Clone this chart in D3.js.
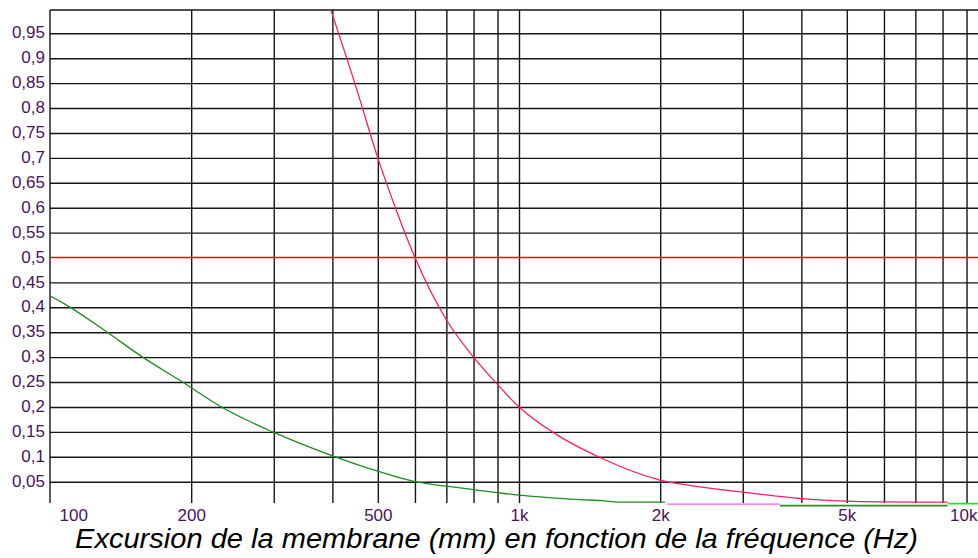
<!DOCTYPE html>
<html>
<head>
<meta charset="utf-8">
<script src="https://cdn.jsdelivr.net/npm/d3@7"></script>
<style>
  html, body { margin: 0; padding: 0; background: #fff; }
  svg { display: block; }
</style>
</head>
<body>
<svg id="chart" width="978" height="558"></svg>
<script>
// ---------- data ----------
const title = "Excursion de la membrane (mm) en fonction de la fréquence (Hz)";

// vertical grid frequencies (Hz)
const xGrid = [200, 300, 400, 500, 600, 700, 800, 900,
               1000, 2000, 3000, 4000, 5000, 6000, 7000, 8000, 9000];
const xTickValues = [100, 200, 500, 1000, 2000, 5000, 10000];
const xTickLabels = ["100", "200", "500", "1k", "2k", "5k", "10k"];

// horizontal grid values (mm)
const yTickValues = [0.05, 0.1, 0.15, 0.2, 0.25, 0.3, 0.35, 0.4, 0.45, 0.5,
                     0.55, 0.6, 0.65, 0.7, 0.75, 0.8, 0.85, 0.9, 0.95];
const yTickLabels = ["0,05", "0,1", "0,15", "0,2", "0,25", "0,3", "0,35", "0,4", "0,45", "0,5",
                     "0,55", "0,6", "0,65", "0,7", "0,75", "0,8", "0,85", "0,9", "0,95"];

// limit line
const limitValue = 0.5;

// pink curve (excursion, high level)
const pinkFreq  = [397, 450, 500, 550, 600, 700, 800, 900, 1000, 1200, 1500, 2000, 2500, 3000, 4000, 5000, 6000, 7000, 8200];
const pinkValue = [0.997, 0.84, 0.70, 0.59, 0.50, 0.375, 0.30, 0.245, 0.20, 0.145, 0.097, 0.053, 0.038, 0.029, 0.016, 0.011, 0.0095, 0.009, 0.009];

// green curve (excursion, low level)
const greenFreq  = [100, 110, 132, 157, 191, 232, 300, 390, 500, 600, 700, 800, 900, 1000, 1090, 1350, 1500, 1630, 2050];
const greenValue = [0.423, 0.401, 0.351, 0.301, 0.251, 0.20, 0.149, 0.106, 0.071, 0.05, 0.041, 0.034, 0.028, 0.023, 0.020, 0.014, 0.012, 0.009, 0.009];

// residual segments along the bottom
const lilacFreq  = [2070, 3600];
const lilacValue = [0.005, 0.005];
const darkGreenFreq  = [3600, 8200];
const darkGreenValue = [0.002, 0.002];
const brightGreenFreq  = [8200, 10000];
const brightGreenValue = [0.006, 0.006];

// ---------- layout ----------
const W = 978, H = 558;
const plotLeft = 50, plotTop = 10, plotBottom = 503, plotRight = 978;

const x = d3.scaleLog().domain([100, 10000]).range([50, 988]);
const y = d3.scaleLinear().domain([0, 1]).range([506.6, 8.4]);

const svg = d3.select("#chart");
const labelColor = "#4a1458";
const gridColor = "#161616";
const font = "'Liberation Sans', Arial, sans-serif";

svg.append("defs").append("clipPath").attr("id", "plotclip")
  .append("rect").attr("x", plotLeft).attr("y", plotTop)
  .attr("width", W - plotLeft).attr("height", H - plotTop);

// vertical grid via axis
const gx = svg.append("g")
  .attr("transform", `translate(0,${plotBottom})`)
  .call(d3.axisBottom(x).tickValues(xGrid).tickSize(-(plotBottom - plotTop)).tickFormat(""));
gx.select(".domain").remove();
gx.selectAll(".tick line").attr("stroke", gridColor).attr("stroke-width", 1.4);

// horizontal grid via axis (the limit line replaces the grid line at its value)
const gy = svg.append("g")
  .attr("transform", `translate(${plotLeft},0)`)
  .call(d3.axisRight(y).tickValues(yTickValues.filter(v => v !== limitValue))
        .tickSize(plotRight - plotLeft).tickFormat(""));
gy.select(".domain").remove();
gy.selectAll(".tick line").attr("stroke", gridColor).attr("stroke-width", 1.4);

// borders (top and left)
svg.append("line").attr("x1", plotLeft).attr("x2", plotRight)
  .attr("y1", plotTop).attr("y2", plotTop)
  .attr("stroke", gridColor).attr("stroke-width", 1.4);
svg.append("line").attr("x1", plotLeft).attr("x2", plotLeft)
  .attr("y1", plotTop).attr("y2", plotBottom)
  .attr("stroke", gridColor).attr("stroke-width", 1.4);

// y labels via axis
const yl = svg.append("g")
  .attr("transform", `translate(45,0)`)
  .call(d3.axisLeft(y).tickValues(yTickValues).tickSize(0).tickPadding(0)
        .tickFormat((d, i) => yTickLabels[i]));
yl.select(".domain").remove();
yl.selectAll("text")
  .attr("fill", labelColor)
  .attr("font-family", font)
  .attr("font-size", 17)
  .attr("dy", "0.27em");

// x labels via axis
const xl = svg.append("g")
  .attr("transform", `translate(0,521)`)
  .call(d3.axisBottom(x).tickValues(xTickValues).tickSize(0).tickPadding(0)
        .tickFormat((d, i) => xTickLabels[i]));
xl.select(".domain").remove();
xl.selectAll("text")
  .attr("fill", labelColor)
  .attr("font-family", font)
  .attr("font-size", 17)
  .attr("dy", 0)
  .attr("y", 0);
// first label sits right of the axis, last label is kept at the frame edge
xl.selectAll("text").filter((d, i) => i === 0)
  .attr("text-anchor", "start").attr("x", 9);
xl.selectAll("text").filter((d, i) => i === xTickValues.length - 1)
  .attr("text-anchor", "end").attr("x", 977 - x(10000));

// ---------- series ----------
const plot = svg.append("g").attr("clip-path", "url(#plotclip)");

function drawSeries(fr, vals, color, width) {
  const pts = fr.map((f, i) => [f, vals[i]]);
  plot.append("path")
    .datum(pts)
    .attr("fill", "none")
    .attr("stroke", color)
    .attr("stroke-width", width)
    .attr("d", d3.line().x(d => x(d[0])).y(d => y(d[1])).curve(d3.curveMonotoneX));
}

// limit line
plot.append("line")
  .attr("x1", x(100)).attr("x2", plotRight)
  .attr("y1", y(limitValue)).attr("y2", y(limitValue))
  .attr("stroke", "#ff0000").attr("stroke-width", 1.3);

drawSeries(greenFreq, greenValue, "#1f8a1f", 1.3);
drawSeries(lilacFreq, lilacValue, "#ff88f0", 1.6);
drawSeries(darkGreenFreq, darkGreenValue, "#2e8b2e", 1.6);
drawSeries(brightGreenFreq, brightGreenValue, "#22e622", 1.8);
drawSeries(pinkFreq, pinkValue, "#ff1a6c", 1.3);

// ---------- title ----------
svg.append("text")
  .attr("x", 496.5).attr("y", 548)
  .attr("text-anchor", "middle")
  .attr("font-family", font)
  .attr("font-style", "italic")
  .attr("font-size", 27)
  .attr("textLength", 843)
  .attr("lengthAdjust", "spacingAndGlyphs")
  .attr("fill", "#000")
  .text(title);
</script>
</body>
</html>
